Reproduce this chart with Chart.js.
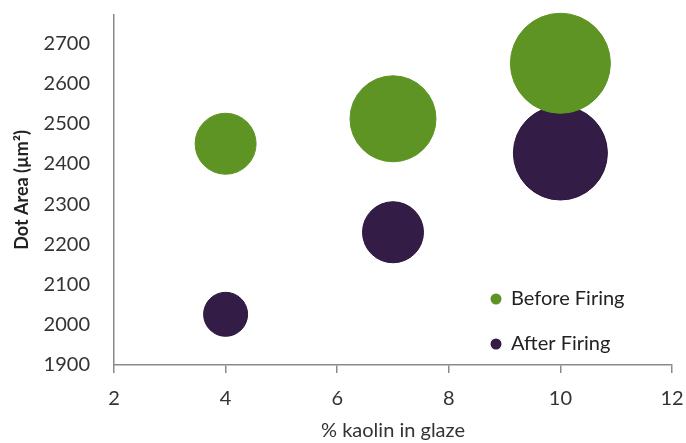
<!DOCTYPE html>
<html>
<head>
<meta charset="utf-8">
<script src="https://cdn.jsdelivr.net/npm/chart.js@4"></script>
<style>
  html, body { margin: 0; padding: 0; background: #fff; }
  #wrap { width: 686px; height: 443px; }
</style>
</head>
<body>
<div id="wrap"><canvas id="chart" width="686" height="443"></canvas></div>
<script>
// values
const kaolin = [4, 7, 10];
const beforeArea = [2450, 2512, 2650];
const afterArea = [2026, 2230, 2427];
// bubble radius in px (as drawn)
const beforeSize = [30.5, 43, 50];
const afterSize = [22, 30.5, 47];
const xTicks = [2, 4, 6, 8, 10, 12];
const yTicks = [1900, 2000, 2100, 2200, 2300, 2400, 2500, 2600, 2700];

const green = '#5e9423';
const purple = '#331d47';
const font = 'Lato, "Open Sans", sans-serif';

function points(ys, rs) {
  return kaolin.map((x, i) => ({ x: x, y: ys[i], r: rs[i] }));
}

// legend sits inside the plot, lower right
const innerLegend = {
  id: 'innerLegend',
  afterDraw(chart) {
    const ctx = chart.ctx;
    const area = chart.chartArea;
    ctx.save();
    ctx.font = '20px ' + font;
    ctx.textBaseline = 'middle';
    chart.data.datasets.forEach((ds, i) => {
      const y = area.bottom - 66 + i * 45;
      const x = area.right - 176;
      ctx.fillStyle = ds.backgroundColor;
      ctx.beginPath();
      ctx.arc(x, y, 5.5, 0, Math.PI * 2);
      ctx.fill();
      ctx.fillStyle = '#222';
      ctx.fillText(ds.label, x + 15, y);
    });
    ctx.restore();
  }
};

new Chart(document.getElementById('chart'), {
  type: 'bubble',
  data: {
    datasets: [
      {
        label: 'Before Firing',
        data: points(beforeArea, beforeSize),
        backgroundColor: green,
        borderColor: green,
        borderWidth: 1
      },
      {
        label: 'After Firing',
        data: points(afterArea, afterSize),
        backgroundColor: purple,
        borderColor: '#2a1740',
        borderWidth: 1
      }
    ]
  },
  options: {
    responsive: false,
    animation: false,
    clip: false,
    layout: { autoPadding: false, padding: { top: 15, right: 14, left: 0, bottom: 0 } },
    plugins: {
      legend: { display: false },
      tooltip: { enabled: false }
    },
    scales: {
      x: {
        type: 'linear',
        min: xTicks[0],
        max: xTicks[xTicks.length - 1],
        afterBuildTicks: s => { s.ticks = xTicks.map(v => ({ value: v })); },
        ticks: { padding: 14, color: '#333', font: { family: font, size: 20 },
                 callback: v => String(v) },
        grid: { drawOnChartArea: false, drawTicks: true, tickLength: 8, color: '#8a8a8a', lineWidth: 1.5 },
        border: { color: '#8a8a8a', width: 1.5 },
        title: { display: true, text: '% kaolin in glaze', color: '#333', padding: 0,
                 font: { family: font, size: 20 } },
        afterFit: s => { s.height = 78; s.paddingLeft = 0; s.paddingRight = 0; }
      },
      y: {
        type: 'linear',
        min: yTicks[0],
        max: 2770,
        afterBuildTicks: s => { s.ticks = yTicks.map(v => ({ value: v })); },
        ticks: { padding: 24, color: '#333', font: { family: font, size: 20 },
                 callback: v => String(v) },
        grid: { display: false, drawTicks: false },
        border: { color: '#8a8a8a', width: 1.5 },
        title: { display: true, text: 'Dot Area (µm²)', color: '#222', padding: { top: 11, bottom: 0 },
                 font: { family: font, size: 18, weight: 'bold' } },
        afterFit: s => { s.width = 114; s.paddingTop = 0; s.paddingBottom = 0; }
      }
    }
  },
  plugins: [innerLegend]
});
</script>
</body>
</html>
